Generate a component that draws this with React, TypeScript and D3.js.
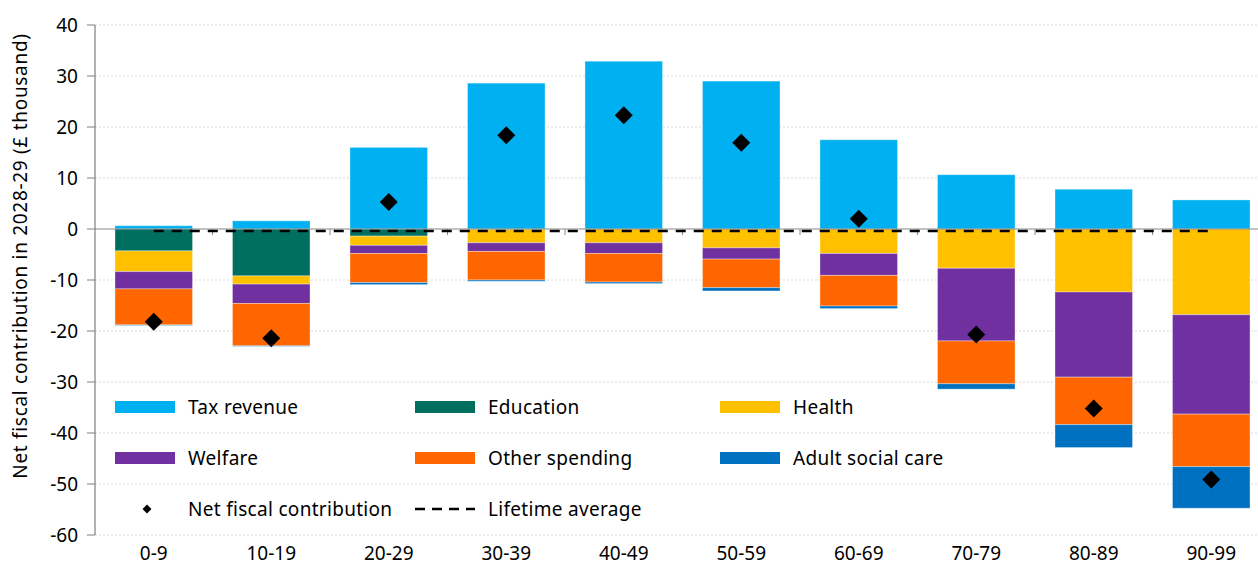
import React from 'react';
import * as d3 from 'd3';

const ageBands = ['0-9', '10-19', '20-29', '30-39', '40-49', '50-59', '60-69', '70-79', '80-89', '90-99'];

// £ thousand; spending shown below zero
const taxRevenue = [0.65, 1.6, 16.0, 28.6, 32.9, 29.0, 17.5, 10.65, 7.8, 5.7];
const education = [-4.3, -9.2, -1.4, -0.1, 0, 0, 0, 0, 0, 0];
const health = [-4.05, -1.6, -1.8, -2.6, -2.7, -3.7, -4.8, -7.7, -12.35, -16.8];
const welfare = [-3.4, -3.8, -1.6, -1.7, -2.1, -2.2, -4.3, -14.25, -16.7, -19.5];
const otherSpending = [-7.05, -8.3, -5.7, -5.6, -5.6, -5.6, -6.0, -8.4, -9.3, -10.3];
const adultSocialCare = [-0.1, -0.1, -0.4, -0.25, -0.3, -0.65, -0.5, -1.05, -4.5, -8.15];
const netContribution = [-18.2, -21.4, 5.3, 18.4, 22.3, 16.9, 2.0, -20.7, -35.2, -49.1];
const lifetimeAverage = -0.4;

const yTicks = [40, 30, 20, 10, 0, -10, -20, -30, -40, -50, -60];

const seriesKeys = ['Tax revenue', 'Education', 'Health', 'Welfare', 'Other spending', 'Adult social care'];
const seriesValues = [taxRevenue, education, health, welfare, otherSpending, adultSocialCare];
const seriesColors = ['#00B0F0', '#006F5F', '#FFC000', '#7030A0', '#FF6600', '#0070C0'];

const W = 1258;
const H = 572;
const margin = { left: 95, top: 25, bottom: 37 };
const plotRight = 1270;
const font = '"Noto Sans", sans-serif';

const App: React.FC = () => {
  const rows = ageBands.map((band, i) => {
    const r: any = { band };
    seriesKeys.forEach((k, j) => { r[k] = seriesValues[j][i]; });
    return r;
  });

  const stacked = d3.stack<any>()
    .keys(seriesKeys)
    .offset(d3.stackOffsetDiverging)(rows);

  const x = d3.scaleBand<string>().domain(ageBands).range([margin.left, plotRight]).paddingInner(0.34).paddingOuter(0.17);
  const xOuter = d3.scaleBand<string>().domain(ageBands).range([margin.left, plotRight]);
  const y = d3.scaleLinear().domain([-60, 40]).range([H - margin.bottom, margin.top]);

  const diamond = d3.symbol().type(d3.symbolSquare).size(162)();
  const smallDiamond = d3.symbol().type(d3.symbolSquare).size(40)();

  const legendItems = [
    { label: 'Tax revenue', col: 0, row: 0, kind: 'bar', color: seriesColors[0] },
    { label: 'Education', col: 1, row: 0, kind: 'bar', color: seriesColors[1] },
    { label: 'Health', col: 2, row: 0, kind: 'bar', color: seriesColors[2] },
    { label: 'Welfare', col: 0, row: 1, kind: 'bar', color: seriesColors[3] },
    { label: 'Other spending', col: 1, row: 1, kind: 'bar', color: seriesColors[4] },
    { label: 'Adult social care', col: 2, row: 1, kind: 'bar', color: seriesColors[5] },
    { label: 'Net fiscal contribution', col: 0, row: 2, kind: 'diamond', color: '#000' },
    { label: 'Lifetime average', col: 1, row: 2, kind: 'dash', color: '#000' },
  ];
  const legendX = [115, 415, 720];
  const legendY = [407, 458, 509];

  const lineStart = x(ageBands[0])! + x.bandwidth() / 2;
  const lineEnd = x(ageBands[ageBands.length - 1])! + x.bandwidth() / 2;

  return (
    <div style={{ position: 'fixed', left: 0, top: 0 }}>
      <svg width={W} height={H} style={{ display: 'block', background: '#fff' }} fontFamily={font}>
        {/* gridlines */}
        {yTicks.filter(t => t !== 0).map(t => (
          <line key={t} x1={margin.left} x2={W} y1={y(t)} y2={y(t)} stroke="#d9d9d9" strokeWidth={1} strokeDasharray="2,2" />
        ))}

        {/* bars */}
        {stacked.map((s, j) => (
          <g key={s.key} fill={seriesColors[j]}>
            {s.map((d, i) => {
              const y0 = y(d[1]);
              const y1 = y(d[0]);
              const h = Math.abs(y1 - y0);
              if (h < 0.01) return null;
              return (
                <rect key={i} x={x(ageBands[i])} y={Math.min(y0, y1)} width={x.bandwidth()} height={h}
                  stroke="#ffffff" strokeOpacity={0.35} strokeWidth={1} />
              );
            })}
          </g>
        ))}

        {/* zero axis */}
        <line x1={margin.left} x2={W} y1={y(0)} y2={y(0)} stroke="#888" strokeWidth={1.2} />
        {ageBands.slice(1).map(b => (
          <line key={b} x1={xOuter(b)} x2={xOuter(b)} y1={y(0)} y2={y(0) + 6} stroke="#888" strokeWidth={1} />
        ))}

        {/* lifetime average */}
        <line x1={lineStart} x2={lineEnd} y1={y(lifetimeAverage)} y2={y(lifetimeAverage)} stroke="#000" strokeWidth={2.5} strokeDasharray="10,8" />

        {/* net contribution */}
        {netContribution.map((v, i) => (
          <path key={i} d={diamond!} fill="#000"
            transform={`translate(${x(ageBands[i])! + x.bandwidth() / 2},${y(v)}) rotate(45)`} />
        ))}

        {/* y axis */}
        <line x1={margin.left} x2={margin.left} y1={y(40)} y2={y(-60)} stroke="#7f7f7f" strokeWidth={1.2} />
        {yTicks.map(t => (
          <g key={t} transform={`translate(0,${y(t)})`}>
            <line x1={margin.left - 8} x2={margin.left} stroke="#7f7f7f" strokeWidth={1} />
            <text x={78} dy="0.35em" textAnchor="end" fontSize={19} fill="#000">{t}</text>
          </g>
        ))}
        <text transform={`translate(27,256) rotate(-90)`} textAnchor="middle" fontSize={19} letterSpacing={0.7} fill="#000">
          Net fiscal contribution in 2028-29 (£ thousand)
        </text>

        {/* x labels */}
        {ageBands.map(b => (
          <text key={b} x={x(b)! + x.bandwidth() / 2} y={553} dy="0.35em" textAnchor="middle" fontSize={19} fill="#000">{b}</text>
        ))}

        {/* legend */}
        {legendItems.map(it => {
          const lx = legendX[it.col];
          const ly = legendY[it.row];
          return (
            <g key={it.label}>
              {it.kind === 'bar' && <rect x={lx} y={ly - 6} width={60} height={12} fill={it.color} />}
              {it.kind === 'diamond' && <path d={smallDiamond!} fill="#000" transform={`translate(${lx + 32},${ly}) rotate(45)`} />}
              {it.kind === 'dash' && <line x1={lx} x2={lx + 60} y1={ly} y2={ly} stroke="#000" strokeWidth={2.5} strokeDasharray="10,7" />}
              <text x={lx + 73} y={ly} dy="0.35em" fontSize={19} letterSpacing={0.3} fill="#000">{it.label}</text>
            </g>
          );
        })}
      </svg>
    </div>
  );
};

export default App;
